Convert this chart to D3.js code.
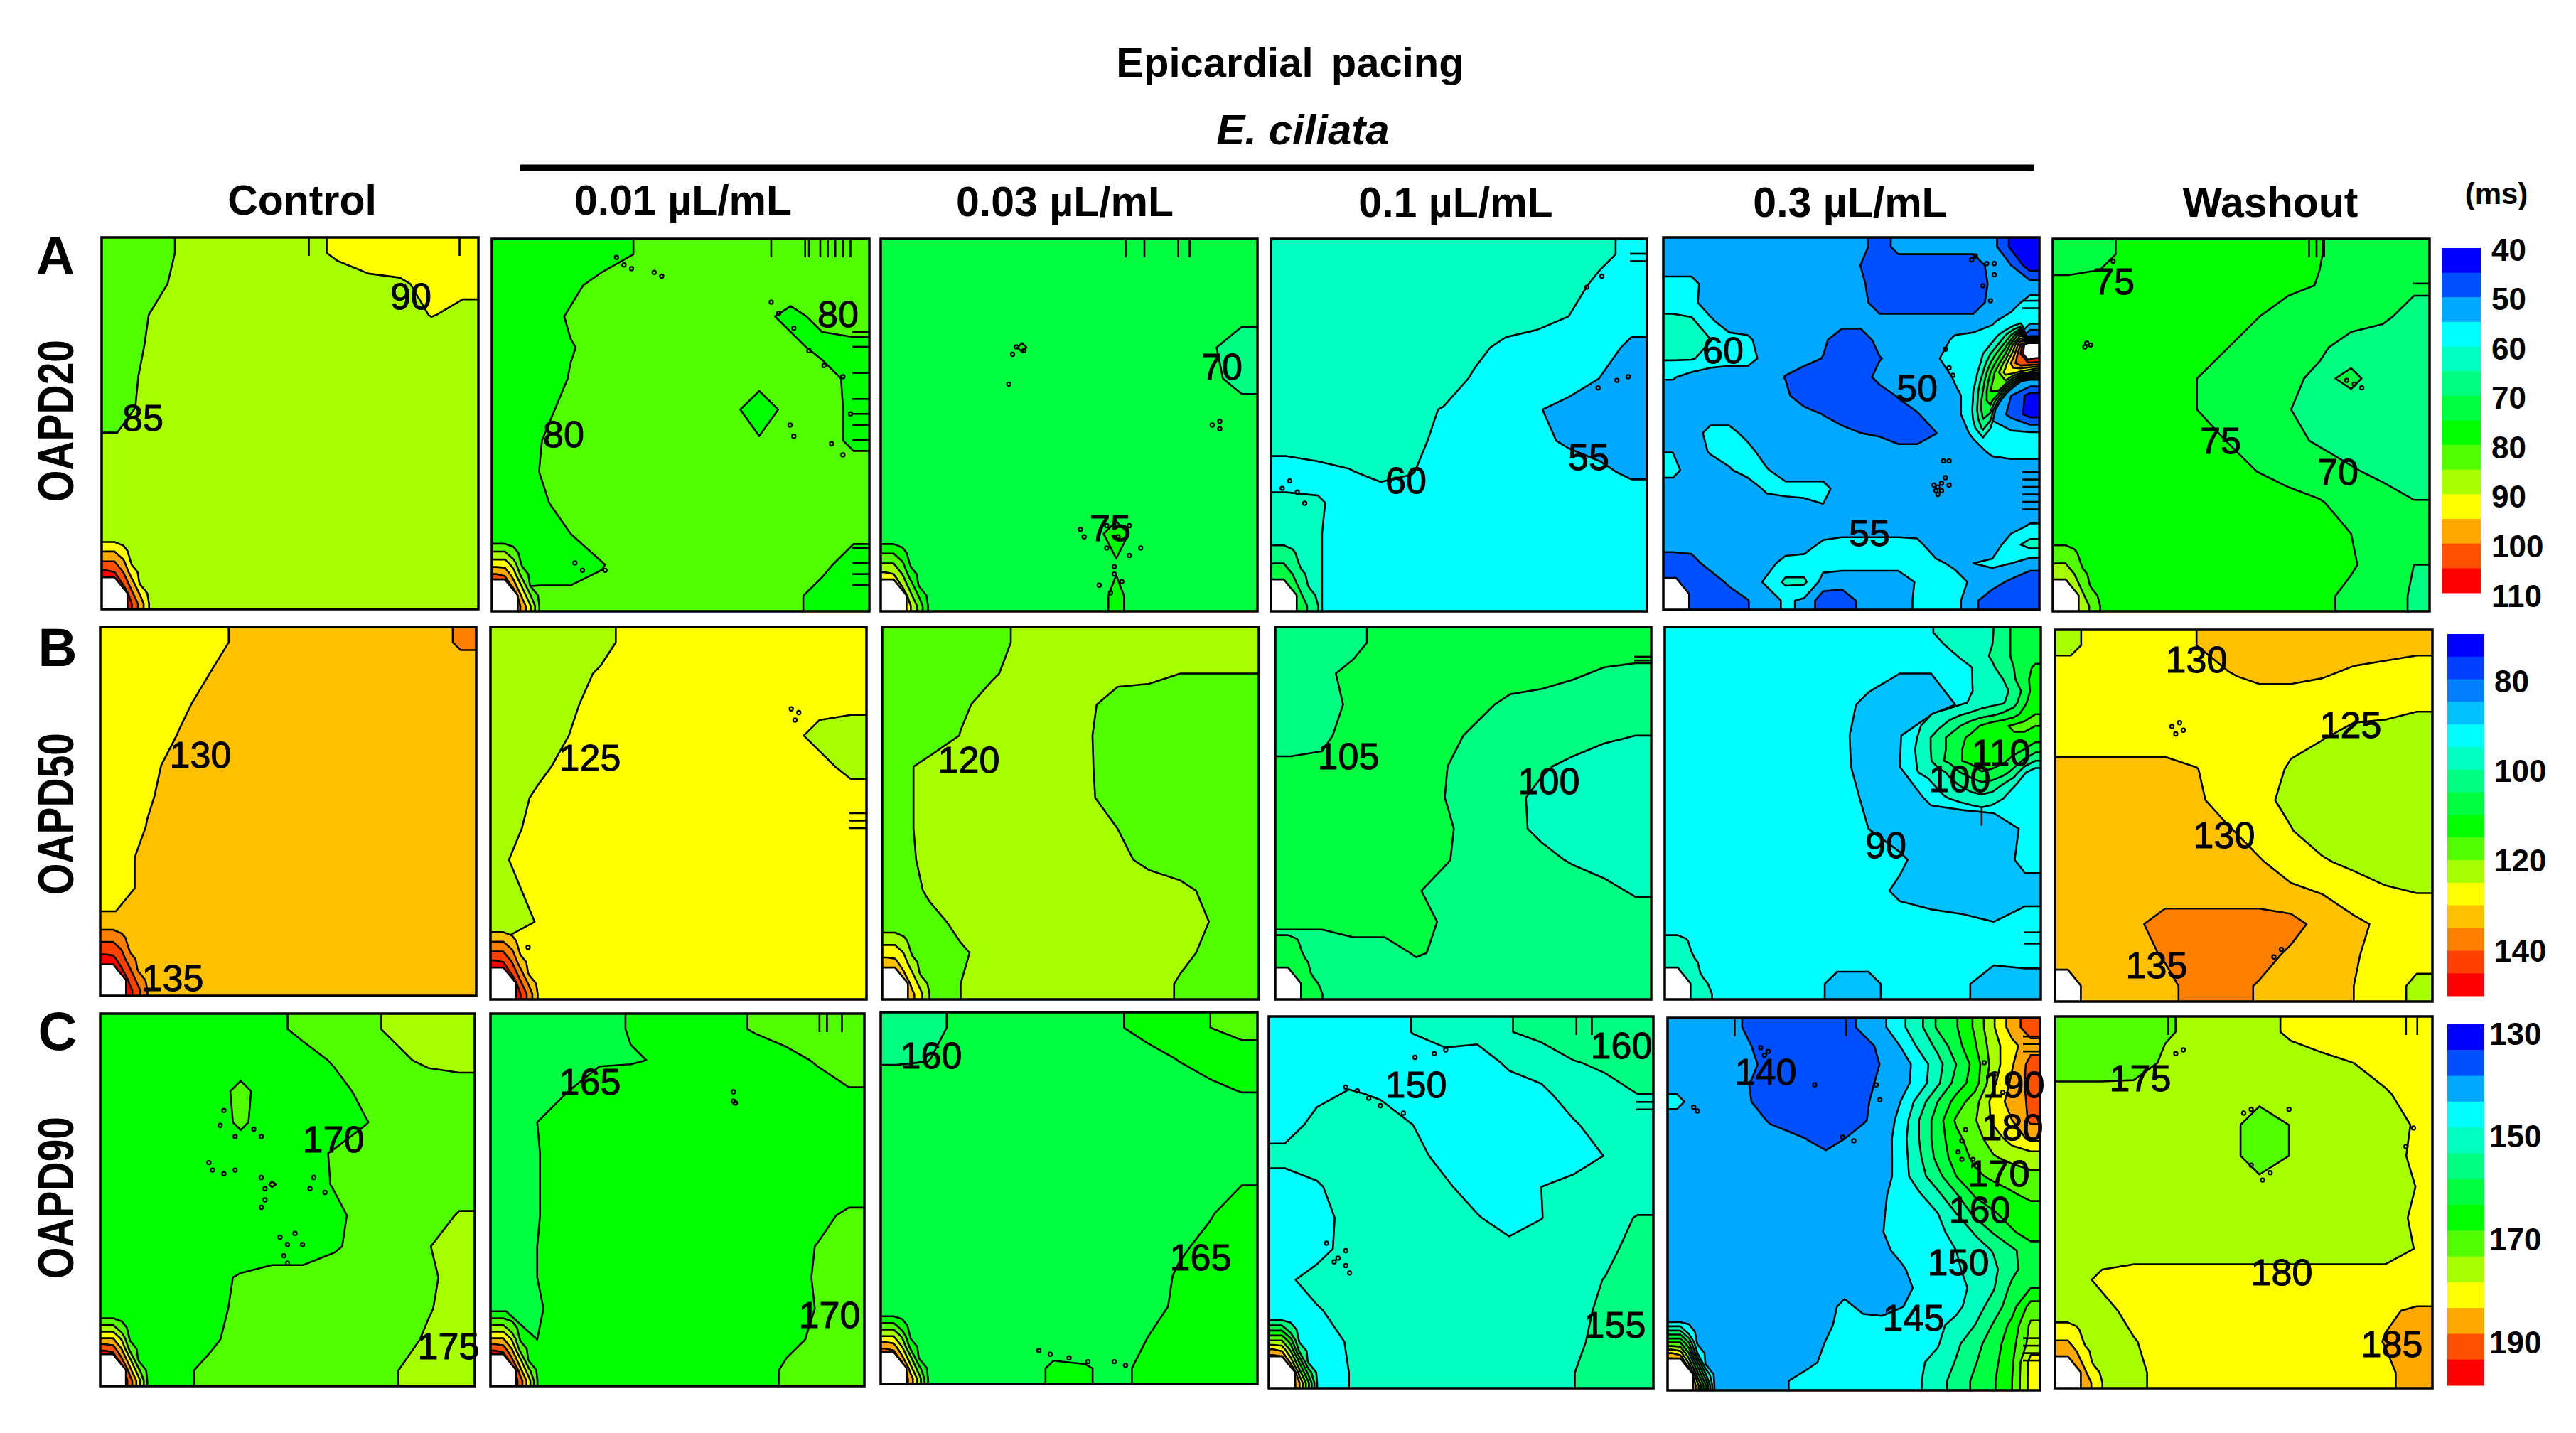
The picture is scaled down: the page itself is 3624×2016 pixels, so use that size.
<!DOCTYPE html>
<html><head><meta charset="utf-8">
<style>html,body{margin:0;background:#fff}svg{display:block}text{font-family:"Liberation Sans",Arial,sans-serif;fill:#000}</style>
<script src="https://cdnjs.cloudflare.com/ajax/libs/d3/7.8.5/d3.min.js"></script>
</head><body><svg id="c" width="3624" height="2016"></svg>
<script>
const colors14=['#0000ff','#0050ff','#00a8ff','#00ffff','#00ffc0','#00ff80','#00ff40','#00ff00','#50ff00','#a8ff00','#ffff00','#ffa800','#ff5000','#ff0000','#ffffff'];
const colors16=['#0000ff','#0040ff','#0080ff','#00c0ff','#00ffff','#00ffc0','#00ff80','#00ff40','#00ff00','#50ff00','#a8ff00','#ffff00','#ffc000','#ff8000','#ff4000','#ff0000','#ffffff'];
const thresholdsA=[45,50,55,60,65,70,75,80,85,90,95,100,105,110];
const thresholdsB=[75,80,85,90,95,100,105,110,115,120,125,130,135,140,145,150];
const thresholdsC=[135,140,145,150,155,160,165,170,175,180,185,190,195,200];
const ticksA=[40,50,60,70,80,90,100,110],ticksB=[80,100,120,140],ticksC=[130,150,170,190];
const cornerRamp=[
[-1,-1,-1,-1,-1,-1,-1],
[.23,.23,.05,-.4,-1,-1,-1],
[.5,.5,.3,-.1,-1,-1,-1],
[.8,.75,.5,.1,-.2,-1,-1],
[1.1,1.05,.7,.35,-.05,-.6,-1],
[1.3,1.2,1,.55,.2,-.2,-1],
[1.3,1.3,1.1,.75,.4,0,-.3]];
const gridA1=[
[82,84,85.2,87,87,87,89,90.5,92,92,92,92],
[82,83.5,86,87,87,87,88,88.5,89,89.5,91,91],
[82,85,87,87,87,87,87,87,87,88,90.2,89],
[82,85.5,87,87,87,87,87,87,87,87,87,87],
[83,86,87,87,87,87,87,87,87,87,87,87],
[83,86.5,87,87,87,87,87,87,87,87,87,87],
[85.5,87,87,87,87,87,87,87,87,87,87,87],
[87,87,87,87,87,87,87,87,87,87,87,87],
[87,87,87,87,87,87,87,87,87,87,87,87],
[87,87,87,87,87,87,87,87,87,87,87,87],
[87,87,87,87,87,87,87,87,87,87,87,87],
[87,87,87,87,87,87,87,87,87,87,87,87]];
const gridA2=[
[77,77,78,78,80,81,81,81,81,81,81,81],
[77,77,79,81.5,82,82,82,82,82,82,82,82],
[77,78,80.5,82,82,82,82,82,81,79,81,82],
[77,78,79.8,81,82,82,82,82,82,81,79,79],
[77,78,80.2,82,82,82,82,82,82,82,81.5,79],
[77,79,81,82,82,82,82,82,77,82,82,79],
[77,79.8,82,82,82,82,82,82,80.5,82,82,79],
[77,80,82,82,82,82,82,82,82,82,82,82],
[77,79.3,81.5,82,82,82,82,82,82,82,82,82],
[77,78,80,82,82,82,82,82,82,82,82,81],
[77,78,78,79.8,82,82,82,82,82,82,81,78],
[81,81,81,81,81,81,81,81,81,81,78.5,78]];
const gridA3=[
[72,72,72,72,72,72,72,72,72,72,72,72],
[72,72,72,72,72,72,72,72,72,72,72,72],
[72,72,72,72,72,72,72,72,72,72,72,71],
[72,72,72,72,75.5,72,72,72,72,72,70.5,68],
[72,72,72,72,72,72,72,72,72,72,71,68.5],
[72,72,72,72,72,72,72,72,72,72,72,71.5],
[72,72,72,72,72,72,72,72,72,72,72,72],
[72,72,72,72,72,72,72,72,72,72,72,72],
[72,72,72,72,72,72,72,72,72,72,72,72],
[72,72,72,72,72,72,72,77,72,72,72,72],
[72,72,72,72,72,72,72,74.5,72,72,72,72],
[72,72,72,72,72,72,72,76,72,72,72,72]];
const gridA4=[
[62,62,62,62,62,62,62,62,62,62,61,59],
[62,62,62,62,62,62,62,62,62,61.5,59,58],
[62,62,62,62,62,62,62,62,61.5,60,57.5,57],
[62,62,62,62,62,62,61,59,58,58,57,54],
[62,62,62,62,62,62,59.5,58,58,58,54.9,53],
[62,62,62,62,61,59.8,58,58,55.4,53,52,52],
[62,62,62,62,61,59,58,58,56.5,54,53,53],
[58,59,59.8,61,60.2,58,58,58,58,58,56,54],
[61,60.3,59,58,58,58,58,58,58,58,58,58],
[62,60.3,58,58,58,58,58,58,58,58,58,58],
[62,60.3,58,58,58,58,58,58,58,58,58,58],
[62,60.3,58,58,58,58,58,58,58,58,58,58]];
const gridA5=[
[52,52,52,52,52,52,52,52,52,52,52,47,52,52,52,52,52,52,44,42],
[52,52,52,52,52,52,52,52,52,52,49.9,47,47,47,47,47,47,52,50,42],
[57,57,52,52,52,52,52,52,52,52,51,47,47,47,47,47,47,51,52,52],
[57,56.5,52,52,52,52,52,52,52,52,52,47,47,47,47,47,47,52,53,57],
[62,61,56,52,52,52,52,52,52,52,52,52,52,52,52,52,52,54.5,57,57],
[62,62,60.2,57,56,52,52,52,51,47,47,52,52,52,52,56,57,57,57,42],
[60.5,60.5,58,57,57,53,52,52,49.8,47,47,49.7,52,52,54.5,57,57,57,57,57],
[55.5,53,52,52,52,52,49.8,47,47,47,47,52,52,52,52,55.5,57,57,57,57],
[52,52,52,52,52,52,51,47,47,47,47,47,50.5,52,52,54,57,57,50,43],
[52,52,52,52,52,52,52,52,49.9,47,47,47,47,49.7,52,54,57,54,48.5,43],
[52,52,57,57,53,52,52,52,52,52,50,49.5,47,47,49.9,52,56,57,56,55.5],
[54.9,52,55.5,57,57,52,52,52,52,52,52,52,52,52,52,52,53,56,57,57],
[57,52,52,54.5,57,55.5,52,52,52,52,52,52,52,52,52,52,52,52,52,52],
[52,52,52,52,52,56,57,57,57,52,52,52,52,52,52,52,52,52,52,52],
[52,52,52,52,52,52,52,53,54.5,52,52,52,52,52,52,52,52,52,52,52],
[52,52,52,52,52,52,52,52,52,52,52,52,52,52,52,52,52,52,53,55.5],
[52,52,52,52,52,52,52,53,56,57,57,57,57,56.5,52,52,52,52,58,62],
[47,48,52,52,52,53,57,57,57,57,57,57,57,56,56,54,55,56,55,52],
[47,47,47,51,52,56,61,61,53,52,52,52,52,55.5,57,57,54,52,49,47],
[47,47,47,47,49.9,52,56,54,47,47,51,52,52,56,57,57,51,47,47,47]];
const hotA5=[
[50,50,50,50,50,50,50,50,50,50,50],
[50,50,50,50,50,52,56,60,64,50,50],
[50,50,50,50,54,60,65,72,85,50,50],
[50,50,50,56,60,65,72,85,100,120,120],
[50,50,52,60,65,72,80,92,105,120,115],
[50,50,56,62,70,78,88,98,104,104,104],
[50,52,58,65,75,84,92,92,88,85,80],
[50,54,60,68,78,85,84,72,60,50,50],
[50,55,62,70,80,80,66,52,50,50,50],
[50,56,62,72,78,66,50,50,50,50,50],
[50,56,63,72,72,54,50,50,50,50,50],
[50,56,62,70,66,50,50,50,50,50,50],
[50,52,60,66,60,50,50,50,50,50,50],
[50,50,57,60,56,50,50,50,50,50,50],
[50,50,50,50,50,50,50,50,50,50,50],
[50,50,50,50,50,50,50,50,50,50,50]];
const gridA6=[
[73,73,77,77,77,77,77,77,75.2,73,73,73],
[76,77,77,77,77,77,77,76,74.8,72,72,71],
[77,77,77,77,77,76,75.2,73,72,72,71,68],
[77,77,77,77,77,75.2,73,72,70.8,68,67,67],
[77,77,77,77,75.2,73,72,71,69,71,68,67],
[77,77,77,77,75.2,73,72,70.2,68,68,67,67],
[77,77,77,77,76,75,73,71,69.5,68,67,67],
[77,77,77,77,77,76,75,73,72,70.5,69,68],
[77,77,77,77,77,77,77,77,75.4,73,72,70.2],
[77,77,77,77,77,77,77,77,77,75,73,72],
[77,77,77,77,77,77,77,77,77,75.5,73,70],
[77,77,77,77,77,77,77,77,76,74,72,69.5]];
const gridB1=[
[128,128,128,128.5,131,132,132,132,132,132,132,136],
[128,128,128,130,132,132,132,132,132,132,132,132],
[128,128,129.3,131,132,132,132,132,132,132,132,132],
[128,128,130.1,132,132,132,132,132,132,132,132,132],
[128,129.2,131,132,132,132,132,132,132,132,132,132],
[128,129.7,131,132,132,132,132,132,132,132,132,132],
[128,130.1,132,132,132,132,132,132,132,132,132,132],
[128.5,131,132,132,132,132,132,132,132,132,132,132],
[128.5,131,132,132,132,132,132,132,132,132,132,132],
[130.5,132,132,132,132,132,132,132,132,132,132,132],
[132,132,132,132,132,132,132,132,132,132,132,132],
[132,132,132,132,132,132,132,132,132,132,132,132]];
const gridB2=[
[123,123,123,124,126,127,127,127,127,127,127,127],
[123,123,124,125.3,127,127,127,127,127,127,127,127],
[123,123,124.5,126,127,127,127,127,127,127,126,126],
[123,124,125,127,127,127,127,127,127,126,124,123],
[123,124.2,126,127,127,127,127,127,127,127,126,124],
[123.5,125.5,127,127,127,127,127,127,127,127,127,126.5],
[124,126,127,127,127,127,127,127,127,127,127,127],
[124.8,127,127,127,127,127,127,127,127,127,127,127],
[123.5,126.5,127,127,127,127,127,127,127,127,127,127],
[123,125.2,127,127,127,127,127,127,127,127,127,127],
[127,127,127,127,127,127,127,127,127,127,127,127],
[127,127,127,127,127,127,127,127,127,127,127,127]];
const gridB3=[
[117,117,118,118.5,121,122,122,122,122,122,122,122],
[117,117,118,119.7,121,122,122,121.5,121,120,120,120],
[117,118,119.5,121,122,122,121,118,118,118,118,118],
[117,118,120.1,122,122,122,120.5,118,118,118,118,118],
[119,121,122,122,122,122,120.6,118,118,118,118,118],
[119,121,122,122,122,122,120.8,118,118,118,118,118],
[119,121,122,122,122,122,121.2,120,118,118,118,118],
[118.6,121,122,122,122,122,122,121,119,118,118,118],
[118,120.5,122,122,122,122,122,122,122,121,119,118],
[118,119,120.8,122,122,122,122,122,122,122,119.8,118],
[118,118,119.6,121,122,122,122,122,122,121,119,118],
[118,118,120,122,122,122,122,122,122,119.5,118,118]];
const gridB4=[
[102,102,103.5,107,107,107,107,107,107,107,107,107],
[102,104,106.3,107,107,107,107,107,107,105.5,104.5,104],
[102,103,106,107,107,107,106,104,103,103,103,103],
[103,104,107,107,107,106,104,103,102,102,100.5,100],
[106,106,107,107,107,105,103,102,100.5,99,98.5,98],
[105,106,107,107,107,104.8,103,101,99,98,98,98],
[105,106,107,107,107,105.5,103,101,99.2,98,98,98],
[105,106,107,107,107,105.2,103,102,101,99.6,98.5,98],
[105,106,107,107,105.3,103.5,102,102,102,102,101,99.5],
[106,106,107,107,106,104.5,102,102,102,102,102,102],
[102,102,103,103,105.5,104,102,102,102,102,102,102],
[102,102,102,102,102,102,102,102,102,102,102,102]];
const gridB5=[
[92,92,92,92,92,92,92,92,92,92,92,92],
[92,92,92,92,92,92,92,90,90,92,92,92],
[92,92,92,92,92,92,88.7,87,89,90.3,92,92],
[92,92,92,92,92,92,87,89.9,92,92,92,92],
[92,92,92,92,92,92,87.5,90,92,92,92,92],
[92,92,92,92,92,92,89.2,87,91,92,92,92],
[92,92,92,92,92,92,90,87,87,87,88,90.5],
[92,92,92,92,92,92,92,91,87,87,87,91.5],
[92,92,92,92,92,92,92,89,87,87,87,88],
[92,92,92,92,92,92,92,92,92,91,90,92],
[92,92,92,92,92,92,92,92,92,92,92,92],
[92,92,92,92,92,88.7,88.7,92,92,91,87,88]];
const hotB5=[
[92,92,92,94,96,96.5,97,97.5,98.5,99.7,103,106,107,108],
[92,92,92,92,94,96,97,98,99,100,103,106,107,108],
[92,92,92,92,92,93.5,95.5,97,99,100.5,103,106,107,108],
[92,92,92,92,92,92,93,94.8,97,99.5,101.5,105,108,111],
[92,92,92,92,92,92,93,94.8,96.5,98.5,100,104.5,108,113],
[92,92,92,92,92,92,93,94.8,96,97.5,99,101,107,113],
[92,92,92,92,92,92,94,95.5,97,98.5,99.5,103,109,114],
[92,92,92,94.5,96,98,99.5,101,103,104,106,108,112,115],
[92,92,94.5,96,99,102,105,108,110.5,113,114,116,117,115],
[92,93,95,99,103,106,109,111,113,114,114,114,113,112],
[92,93,95.5,99,103,106,109.5,112,113,113,113,112,110,107],
[92,92,95.3,98,104,106,109.8,111,112,112,111,108,104,100],
[92,92,94.9,96,98,101,105,107.5,109.8,109,107,103,95.5,92],
[92,92,92,94,96,98.5,100.5,102,104,103,100,96,92,90],
[92,92,92,92,94,96,97.5,99,99.5,98.5,96,92,92,92],
[92,92,92,92,92,92,93,94,95,94,92,92,92,92]];
const gridB6=[
[124,127,127,128,130,132,132,132,132,132,132,131],
[127,127,127,127,127,129.6,131,131,130.2,129,128,128],
[127,127,127,127,127,127,127,127,127,127,127,125.5],
[127,127,127,127,127,127,127,126,125.2,123,122,122],
[132,132,132,132,130.2,127,127,124.5,122,122,122,122],
[132,132,132,132,130.8,128,126,124,122,122,122,122],
[132,132,132,132,132,130.5,128,125.2,123,122,122,122],
[132,132,132,132,132,132,130.4,128,125.5,124,122,122],
[133,133,133,133,133,133,133,131,129.9,127.5,126,125],
[133,133,134,137,137,137,137,137,133,131,129,127],
[133,133,133,135.5,137,137,137,134,133,130.5,128,126.5],
[133,133,133,133.5,137,137,134.5,133,132,130,127,124]];
const gridC1=[
[167,167,167,167,167,169,171,172,174,176,177,177],
[167,167,167,167,167,167,168.5,170.4,172,174,176,177],
[167,167,167,167,171.5,167,167,168.7,171,172,172,172],
[167,167,167,167,171,167,167,167,169.8,172,172,172],
[167,167,167,167,167,167,168,170.5,172,172,172,172],
[167,167,167,167,167,170.3,168,170.3,172,172,172,172],
[167,167,167,167,167,167,167,169,171.5,172,172,175.5],
[167,167,167,167,167,167,167,169.5,171.5,172,174.8,177],
[167,167,167,168.5,170.5,172,172,172,172,172,174,177],
[167,167,167,168.5,171,172,172,172,172,172,174.6,177],
[167,167,167,169.2,171.5,172,172,172,172,173,175.7,177],
[167,167,169,171,172,172,172,172,172,174.9,177,177]];
const gridC2=[
[162,162,163,163.5,165.3,167,167,168.5,170.5,172,172,172],
[162,162,163,164.5,164.7,165.3,167,167,167,168.5,170.5,172],
[162,163,165,167,167,167,167,167,167,167,168,169.7],
[162,165,167,167,167,167,167,167,167,167,167,167],
[162,164.8,167,167,167,167,167,167,167,167,167,167],
[162,164.8,167,167,167,167,167,167,167,167,167,167],
[162,164.8,167,167,167,167,167,167,167,167,168.5,171],
[162,165,167,167,167,167,167,167,167,168,170.2,172],
[162,165,167,167,167,167,167,167,167,168,170.5,172],
[164.8,164.5,167,167,167,167,167,167,167,168,170.2,172],
[167,165,167,167,167,167,167,167,167,168.5,171,172],
[167,167,167,167,167,167,167,167,167,171,172,172]];
const gridC3=[
[157,158.5,161,162,162,162,162,164.5,166.5,167,170,172],
[159.5,159.8,162,162,162,162,162,162,163.5,165.2,167,167],
[162,162,162,162,162,162,162,162,162,163,164,165.3],
[162,162,162,162,162,162,162,162,162,162,162,162],
[162,162,162,162,162,162,162,162,162,162,162,162],
[162,162,162,162,162,162,162,162,162,162,163,164.8],
[162,162,162,162,162,162,162,162,162,162,164.7,167],
[162,162,162,162,162,162,162,162,162,164.3,166,167],
[162,162,162,162,162,162,162,162,163,165.5,167,167],
[162,162,162,162,162,162,162,162,163.5,165.8,167,167],
[162,162,162,162,162,162,162,163,165,167,167,167],
[162,162,162,162,162,166,165.5,163.5,166.5,167,167,167]];
const gridC4=[
[147,147,147,147,150.2,152,152,154.8,156.5,159,159,158],
[147,147,147,147,147,148,147,151,152,154.6,156,157],
[147,148.5,150.5,149.5,148,147,147,147,149,152,153,155],
[147,152,152,152,150,147,147,147,147,149.5,152,153],
[152,152,152,152,152,148,147,147,148,147,150.2,152],
[147,149.5,152,152,152,151,147,147,150,152,152,152],
[147,147.5,152,152,152,152,150.5,147,149.9,152,153,155.3],
[147,148,152,152,152,152,152,152,152,152,153.5,157],
[149,152,152,152,152,152,152,152,152,153,155.2,157],
[147,149.5,152,152,152,152,152,152,152,153.5,156,157],
[147,147,150.5,152,152,152,152,152,152,153.7,157,157],
[147,147,150,152,152,152,152,152,152,154.9,157,157]];
const gridC5=[
[142,142,142,142,138,137,137,137,137,137,142,143.8,148.7,153.4,160.8,164.6,170.8,179.5,187.5,193],
[142,142,142,142,140,137,137,137,137,137,137,142,145.1,151,156.3,163,169.4,178,183.5,188],
[142,142,142,142,141.5,137,137,137,137,137,137,140.4,142.5,146.9,153.1,160,166.9,177.4,184.5,192],
[142,142,142,142,139.7,137,137,137,137,137,137,142,143,147,154,162,167.5,179,186,192],
[147,142,142,142,140,137,137,137,137,137,139,142,145,152,160,167,173,182,187,191],
[142,142,142,142,142,139.5,137,137,137,137,139.5,142,146.3,155,162.5,170.8,174.5,181,185,191],
[142,142,142,142,142,142,142,139.9,137,140,142,142,147.5,155,162.5,168.5,172.9,177.5,182,186],
[142,142,142,142,142,142,142,142,142,142,142,142,147.4,154,161.5,167.5,171,174.5,176.5,177],
[142,142,142,142,142,142,142,142,142,142,142,142,147.4,153,158.3,165,169,171,172,174],
[142,142,142,142,142,142,142,142,142,142,142,144.3,146.7,149.3,153.8,159.5,165.5,167.5,169.5,171],
[142,142,142,142,142,142,142,142,142,142,142,144.7,146.4,147.9,149.9,155,161.3,164.5,167,168],
[142,142,142,142,142,142,142,142,142,142,142,144.9,146,147.4,149,151.4,155.5,160.5,164.5,167],
[142,142,142,142,142,142,142,142,142,142,142,144,146,147.2,148.5,150,152.5,155.3,159,163],
[142,142,142,142,142,142,142,142,142,142,142,142,144.3,146.7,148,149.5,151.5,153.9,158.5,163],
[142,142,142,142,142,142,142,142,142,142,142,142,143,146,147.7,148.8,150.8,154.6,161.3,165],
[142,142,142,142,142,142,142,142,142,147,143,142,144.7,146.5,147.5,148.7,152.5,157.3,163,172],
[142,142,142,142,142,142,142,142,143.8,147,148,148,148,148,149,151.5,155,160.5,166.5,176],
[142,142,142,142,142,142,142,142,145.3,148,148,148.5,148.5,148.5,149.6,154,158.3,162.5,168.3,177],
[142,142,142,142,142,142,142,143.8,146,147,148,148,149,149.3,151.5,155.4,159.6,163.5,169.3,182],
[142,142,142,142,142,142,145,147,148,148,148,148,148.5,149.5,153,157,161,164.4,170,182]];
const gridC6=[
[172,172,172,174.5,176,177,178,181,182,182,182,182],
[172,172,172.5,175.8,177,177,177,177.5,179,180,182,182],
[177,177,177,177,177,177,177,177,177,178,179.5,182],
[177,177,177,177,177,177,172,175.2,177,177,178,180.5],
[177,177,177,177,177,177,172,175.2,177,177,178,181],
[177,177,177,177,177,177,177,177,177,177,177.5,180.1],
[177,177,177,177,177,177,177,177,177,177,177.5,181],
[178,178,178,178,178,178,178,178,178,178,178,180.2],
[178,181,182,182,182,182,182,182,182,182,182,182],
[177,178.5,181.5,182,182,182,182,182,182,182,184.5,185.5],
[177,177,179.7,182,182,182,182,182,182,183,185.2,187],
[177,177,178.5,182,182,182,182,182,182,182,184,187]];
const speckles=[
[1,.33,.05],[1,.35,.07],[1,.37,.08],[1,.43,.09],[1,.45,.1],[1,.74,.17],[1,.76,.2],[1,.8,.24],[1,.84,.3],[1,.88,.34],[1,.93,.37],[1,.95,.47],[1,.9,.55],[1,.93,.58],[1,.79,.5],[1,.8,.53],[1,.22,.87],[1,.24,.89],[1,.3,.89],
[2,.36,.29],[2,.38,.3],[2,.35,.31],[2,.34,.39],[2,.88,.5],[2,.9,.51],[2,.9,.49],[2,.53,.78],[2,.54,.8],[2,.63,.8],[2,.69,.83],[2,.66,.85],[2,.6,.83],[2,.62,.9],[2,.64,.92],[2,.58,.93],[2,.61,.95],[2,.62,.88],[2,.66,.77],[2,.6,.77],
[3,.05,.65],[3,.07,.68],[3,.03,.67],[3,.09,.71],[3,.92,.38],[3,.87,.4],[3,.95,.37],[3,.88,.1],[3,.84,.13],
[4,.745,.6],[4,.76,.6],[4,.72,.665],[4,.73,.67],[4,.74,.66],[4,.74,.68],[4,.73,.69],[4,.76,.665],[4,.725,.68],[4,.75,.645],[4,.83,.05],[4,.86,.07],[4,.88,.1],[4,.85,.13],[4,.87,.17],[4,.82,.06],[4,.88,.07],[4,.75,.3],[4,.76,.35],[4,.77,.37],
[5,.09,.28],[5,.1,.285],[5,.085,.29],[5,.78,.38],[5,.8,.39],[5,.82,.4],[5,.16,.06],
[7,.8,.22],[7,.82,.23],[7,.81,.25],[7,.1,.86],[11,.31,.26],[11,.33,.25],[11,.32,.28],[11,.34,.27],[11,.58,.88],[11,.6,.86],
[12,.33,.26],[12,.32,.3],[12,.36,.33],[12,.41,.31],[12,.43,.33],[12,.3,.42],[12,.33,.43],[12,.36,.42],[12,.29,.4],[12,.43,.44],[12,.44,.47],[12,.44,.5],[12,.43,.52],[12,.57,.44],[12,.56,.47],[12,.6,.48],[12,.48,.6],[12,.5,.62],[12,.49,.65],[12,.52,.59],[12,.54,.62],[12,.5,.67],
[13,.65,.21],[13,.655,.24],[13,.65,.235],[14,.42,.91],[14,.45,.92],[14,.5,.93],[14,.55,.94],[14,.65,.95],[14,.62,.94],
[15,.2,.19],[15,.23,.2],[15,.26,.22],[15,.29,.24],[15,.35,.26],[15,.38,.11],[15,.43,.1],[15,.46,.09],[15,.2,.63],[15,.18,.65],[15,.2,.67],[15,.21,.69],[15,.15,.61],[15,.17,.66],
[16,.25,.08],[16,.26,.1],[16,.27,.09],[16,.395,.18],[16,.56,.18],[16,.57,.22],[16,.5,.33],[16,.47,.32],[16,.85,.12],[16,.88,.15],[16,.9,.2],[16,.8,.3],[16,.79,.33],[16,.79,.38],[16,.78,.36],[16,.82,.38],[16,.07,.24],[16,.08,.25],
[17,.5,.26],[17,.52,.25],[17,.62,.25],[17,.52,.4],[17,.57,.42],[17,.55,.44],[17,.32,.1],[17,.34,.09],[17,.95,.3],[17,.93,.35]];
const stubsTop=[[0,.55],[0,.95],[1,.74],[1,.83],[1,.84],[1,.87],[1,.89],[1,.91],[1,.93],[1,.95],[2,.65],[2,.7],[2,.79],[2,.82],[5,.68],[5,.7],[5,.72],[13,.88],[13,.9],[13,.94],[15,.8],[15,.84],[16,.18],[16,.48],[17,.93],[17,.96],[17,.3]];
const stubsRight=[[1,.25],[1,.29],[1,.36],[1,.43],[1,.47],[1,.5],[1,.54],[1,.83],[1,.87],[1,.9],[1,.93],[3,.04],[3,.06],[4,.17],[4,.19],[4,.63],[4,.65],[4,.67],[4,.69],[4,.71],[4,.73],[5,.12],[7,.5],[7,.52],[7,.54],[10,.82],[10,.85],[16,.05],[16,.07],[16,.09],[16,.86],[16,.88],[16,.9],[16,.92],[15,.23],[15,.25],[9,.08],[9,.09]];
const panels=[
{g:gridA1,r:[143,673,334,857],s:'A',c:[90,4]},{g:gridA2,r:[692,1223,336,860],s:'A',c:[80,5]},{g:gridA3,r:[1239,1769,336,860],s:'A',c:[75,4]},
{g:gridA4,r:[1788,2317,336,860],s:'A',c:[65,2]},{g:gridA5,r:[2340,2869,334,858],s:'A',c:[110,0],h:{g:hotA5,x:[.78,1],y:[.2,.6],m:60}},{g:gridA6,r:[2888,3418,336,860],s:'A',c:[80,2]},
{g:gridB1,r:[141,670,882,1401],s:'B',c:[135,3]},{g:gridB2,r:[690,1219,882,1406],s:'B',c:[130,4]},{g:gridB3,r:[1241,1771,882,1406],s:'B',c:[120,3]},
{g:gridB4,r:[1794,2323,882,1406],s:'B',c:[105,1]},{g:gridB5,r:[2342,2871,882,1406],s:'B',c:[95,1],h:{g:hotB5,x:[.6,1],y:[0,.5],m:95}},{g:gridB6,r:[2891,3422,886,1409],s:'B',c:[150,0]},
{g:gridC1,r:[141,668,1426,1950],s:'C',c:[170,6]},{g:gridC2,r:[690,1216,1426,1950],s:'C',c:[170,6]},{g:gridC3,r:[1239,1769,1424,1947],s:'C',c:[165,6]},
{g:gridC4,r:[1785,2326,1430,1953],s:'C',c:[155,8]},{g:gridC5,r:[2346,2870,1432,1956],s:'C',c:[145,10]},{g:gridC6,r:[2891,3422,1430,1953],s:'C',c:[180,2]}];
const scales={
A:d3.scaleThreshold(thresholdsA,colors14),
B:d3.scaleThreshold(thresholdsB,colors16),
C:d3.scaleThreshold(thresholdsC,colors14)};
const contourLabels=[
['90',578,416],['85',201,587],['80',1179,441],['80',793,610],['70',1719,515],['75',1562,742],['60',1978,675],['55',2235,642],['60',2424,492],['50',2697,545],['55',2630,749],['75',2974,395],['75',3124,619],['70',3289,663],
['130',282,1061],['135',243,1375],['125',830,1065],['120',1363,1068],['105',1897,1063],['100',2179,1098],['110',2815,1058],['100',2757,1095],['90',2653,1188],['130',3090,927],['125',3307,1019],['130',3129,1174],['135',3034,1357],
['170',469,1602],['175',631,1893],['165',830,1521],['170',1167,1849],['160',1310,1484],['165',1689,1768],['150',1992,1525],['160',2281,1470],['155',2272,1863],['140',2484,1507],['190',2833,1525],['180',2831,1585],['170',2812,1650],['160',2785,1701],['150',2755,1775],['145',2692,1853],['175',3011,1516],['180',3210,1789],['185',3365,1890]];
const svg=d3.select('#c');
const defs=svg.append('defs');
function hd(t,x,y,fs,o={}){const e=svg.append('text').attr('x',x).attr('y',y).attr('dy','.358em').attr('text-anchor','middle').attr('font-size',fs).attr('font-weight',o.w||'bold').text(t);if(o.i)e.attr('font-style','italic');if(o.ws)e.attr('word-spacing',o.ws);return e}
hd('Epicardial pacing',1815,87,58,{ws:9});
hd('E. ciliata',1833,182,60,{i:1});
svg.append('path').attr('d',d3.line()([[732,236],[2862,236]])).attr('stroke','#000').attr('stroke-width',9);
[['Control',425,281],['0.01 µL/mL',961,281],['0.03 µL/mL',1498,283],['0.1 µL/mL',2048,284],['0.3 µL/mL',2603,284],['Washout',3194,284]].forEach(d=>hd(d[0],d[1],d[2],59));
hd('(ms)',3512,272,42);
[['A',78,359],['B',81,910],['C',81,1450]].forEach(d=>hd(d[0],d[1],d[2],76));
[['OAPD20',78,592],['OAPD50',78,1145],['OAPD90',78,1685]].forEach(d=>{svg.append('text').attr('text-anchor','middle').attr('dy','.358em').attr('font-size',57).attr('font-weight','bold').attr('transform',`translate(${d[1]},${d[2]}) rotate(-90) scale(1,1.22)`).text(d[0])});
function pad(flat,nx,ny){const o=[];for(let j=-1;j<=ny;j++)for(let i=-1;i<=nx;i++){const a=Math.min(nx-1,Math.max(0,i)),b=Math.min(ny-1,Math.max(0,j));o.push(flat[b*nx+a])}return o}
function field(g,flat,nx,ny,xr,yr,sc,th,stroke=true){
  const x=d3.scaleLinear([1,nx+1],xr),y=d3.scaleLinear([1,ny+1],yr);
  const tr=d3.geoTransform({point(a,b){this.stream.point(x(a),y(b))}});
  const path=d3.geoPath(tr);
  const cs=d3.contours().size([nx+2,ny+2]).smooth(true).thresholds(th)(pad(flat,nx,ny));
  g.selectAll(null).data(cs.filter(c=>c.coordinates.length)).join('path').attr('d',path).attr('fill',c=>sc(c.value)).attr('stroke','#000').attr('stroke-width',2.6).attr('stroke-linejoin','round');
}
panels.forEach((p,i)=>{
  const [x0,x1,y0,y1]=p.r,sc=scales[p.s];
  defs.append('clipPath').attr('id','cp'+i).append('rect').attr('x',x0).attr('y',y0).attr('width',x1-x0).attr('height',y1-y0);
  const g=svg.append('g').attr('clip-path',`url(#cp${i})`);
  const X=d3.scaleLinear([0,1],[x0,x1]),Y=d3.scaleLinear([0,1],[y0,y1]);
  g.append('rect').attr('x',x0).attr('y',y0).attr('width',x1-x0).attr('height',y1-y0).attr('fill',sc(-1));
  const ny=p.g.length,nx=p.g[0].length;
  field(g,p.g.flat(),nx,ny,[x0,x1],[y0,y1],sc,sc.domain());
  if(p.h){const m=p.h.g.length,n=p.h.g[0].length;
    field(g,p.h.g.flat(),n,m,p.h.x.map(X),p.h.y.map(Y),sc,sc.domain().filter(t=>t>=p.h.m));}
  const top=sc.domain().at(-1),[st,nb]=p.c;
  const xc=[X(0),X(.16)],yc=[Y(.8),Y(1)];
  if(nb){const cv=cornerRamp.flat().map(d=>d<0?st-1:st+Math.min(d,1)*5*nb);
    field(g,cv,7,7,xc,yc,sc,sc.domain().filter(t=>t>=st&&t<st+5*nb));}
  field(g,cornerRamp.flat().map(d=>d>=1?top+1:top-1),7,7,xc,yc,sc,[top]);
  speckles.filter(s=>s[0]===i).forEach(s=>g.append('circle').attr('cx',X(s[1])).attr('cy',Y(s[2])).attr('r',2.6).attr('fill','none').attr('stroke','#000').attr('stroke-width',2.2));
  stubsTop.filter(s=>s[0]===i).forEach(s=>g.append('path').attr('d',d3.line()([[X(s[1]),y0],[X(s[1]),y0+26]])).attr('stroke','#000').attr('stroke-width',2.6));
  stubsRight.filter(s=>s[0]===i).forEach(s=>g.append('path').attr('d',d3.line()([[x1-24,Y(s[1])],[x1,Y(s[1])]])).attr('stroke','#000').attr('stroke-width',2.6));
  svg.append('rect').attr('x',x0).attr('y',y0).attr('width',x1-x0).attr('height',y1-y0).attr('fill','none').attr('stroke','#000').attr('stroke-width',3.5);
});
svg.append('g').selectAll('text').data(contourLabels).join('text').attr('x',d=>d[1]).attr('y',d=>d[2]).attr('dy','.358em').attr('text-anchor','middle').attr('font-size',52).attr('stroke','#000').attr('stroke-width',1).text(d=>d[0]);
function legend(sc,n,x0,x1,y0,y1,domain,range,ticks,pd){
  const b=d3.scaleBand(d3.range(n),[y0,y1]);
  const cols=sc.range();
  svg.append('g').selectAll('rect').data(d3.range(n)).join('rect').attr('x',x0).attr('y',b).attr('width',x1-x0).attr('height',b.bandwidth()+.5).attr('fill',i=>cols[i]);
  const ax=svg.append('g').attr('transform',`translate(${x1},0)`).call(d3.axisRight(d3.scaleLinear(domain,range)).tickValues(ticks).tickSize(0).tickPadding(pd).tickFormat(d3.format('d')));
  ax.select('.domain').remove();
  ax.selectAll('text').attr('font-size',44).attr('font-weight','bold').style('font-family','"Liberation Sans",Arial,sans-serif');
}
legend(scales.A,14,3435,3490,349,834,[40,110],[352,839],ticksA,15);
legend(scales.B,16,3443,3495,892,1401,[80,140],[959,1338],ticksB,14);
legend(scales.C,14,3443,3495,1441,1949,[130,190],[1455,1889],ticksC,7);
</script></body></html>
